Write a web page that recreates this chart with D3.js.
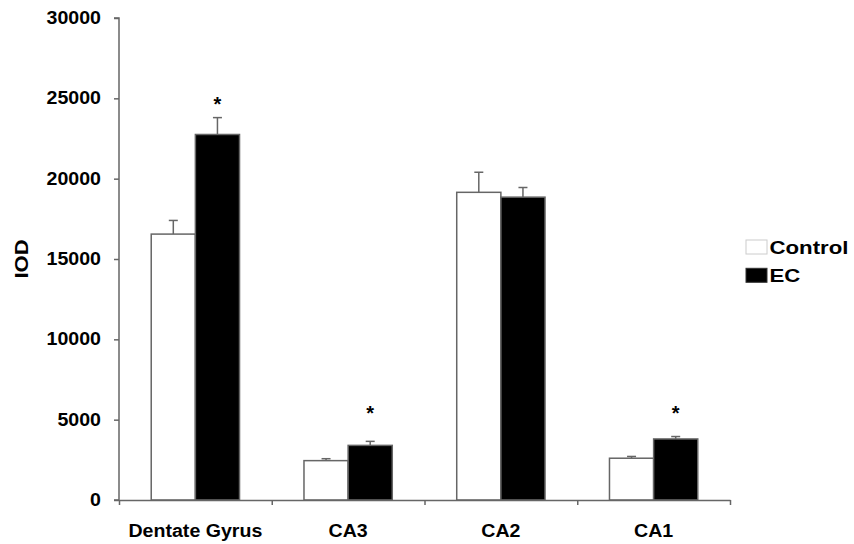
<!DOCTYPE html>
<html>
<head>
<meta charset="utf-8">
<script src="https://cdn.jsdelivr.net/npm/d3@7"></script>
<style>
body { margin: 0; background: #fff; }
text { font-family: "Liberation Sans", Arial, sans-serif; font-weight: bold; fill: #000; }
</style>
</head>
<body>
<script>
let regions = ["Dentate Gyrus", "CA3", "CA2", "CA1"];
let groups = ["Control", "EC"];
let controlMean = [16550, 2450, 19150, 2600];
let controlErr = [850, 120, 1250, 110];
let ecMean = [22750, 3400, 18850, 3800];
let ecErr = [1050, 250, 600, 150];
// star marks (value at the star's baseline), null where none
let starAt = [24200, 4950, null, 4950];
let yTicks = [0, 5000, 10000, 15000, 20000, 25000, 30000];

let W = 854, H = 544;
let plotLeft = 119, plotRight = 730, plotTop = 18, plotBottom = 500;
let sx = 1.12; // text in the reference is a bit wide

let svg = d3.select("body").append("svg")
  .attr("width", W).attr("height", H);

let x = d3.scaleBand().domain(regions).range([plotLeft, plotRight]).padding(0);
let xs = d3.scaleBand().domain(groups).range([0, x.bandwidth()])
  .paddingInner(0).paddingOuter(0.73);
let y = d3.scaleLinear().domain([0, 30000]).range([plotBottom, plotTop]);
let xi = d3.scaleLinear().domain([0, regions.length]).range([plotLeft, plotRight]);

let data = [];
regions.forEach(function (r, i) {
  data.push({ region: r, group: "Control", v: controlMean[i], e: controlErr[i] });
  data.push({ region: r, group: "EC", v: ecMean[i], e: ecErr[i] });
});

// error bars (upward only)
let err = svg.append("g").attr("stroke", "#666").attr("stroke-width", 1.5);
data.forEach(function (d) {
  let cx = x(d.region) + xs(d.group) + xs.bandwidth() / 2;
  err.append("line").attr("x1", cx).attr("x2", cx)
    .attr("y1", y(d.v)).attr("y2", y(d.v + d.e));
  err.append("line").attr("x1", cx - 4.5).attr("x2", cx + 4.5)
    .attr("y1", y(d.v + d.e)).attr("y2", y(d.v + d.e));
});

svg.append("g").selectAll("rect").data(data).enter().append("rect")
  .attr("x", function (d) { return x(d.region) + xs(d.group); })
  .attr("y", function (d) { return y(d.v); })
  .attr("width", xs.bandwidth())
  .attr("height", function (d) { return y(0) - y(d.v); })
  .attr("fill", function (d) { return d.group == "EC" ? "#000" : "#fff"; })
  .attr("stroke", "#666").attr("stroke-width", 1.5);

// stars
regions.forEach(function (r, i) {
  if (starAt[i] == null) return;
  let cx = x(r) + xs("EC") + xs.bandwidth() / 2;
  svg.append("text").text("*")
    .attr("transform", "translate(" + cx + "," + y(starAt[i]) + ")")
    .attr("text-anchor", "middle").style("font-size", "20px");
});

// y axis
let yAxis = svg.append("g").attr("transform", "translate(" + plotLeft + ",0)")
  .call(d3.axisLeft(y).tickValues(yTicks).tickSize(5).tickPadding(13)
    .tickFormat(function (d) { return d; }));
yAxis.selectAll("path, line").attr("stroke", "#666").attr("stroke-width", 1.5);
yAxis.select(".domain").attr("d", "M-5," + plotTop + "H0V" + plotBottom + "H-5");
yAxis.selectAll("text").attr("font-size", null).style("font-size", "17.5px")
  .attr("fill", "#000")
  .attr("transform", function () {
    let t = d3.select(this);
    return "translate(" + t.attr("x") + ",0) scale(" + sx + ",1) translate(" + (-t.attr("x")) + ",0)";
  });

// x axis: ticks at category boundaries
let xAxis = svg.append("g").attr("transform", "translate(0," + plotBottom + ")")
  .call(d3.axisBottom(xi).tickValues(d3.range(regions.length + 1))
    .tickSize(5).tickSizeOuter(0).tickFormat(""));
xAxis.selectAll("path, line").attr("stroke", "#666").attr("stroke-width", 1.5);

svg.append("g").selectAll("text").data(regions).enter().append("text")
  .text(function (d) { return d; })
  .attr("transform", function (d) {
    return "translate(" + (x(d) + x.bandwidth() / 2) + "," + (plotBottom + 36.5) + ") scale(" + sx + ",1)";
  })
  .attr("text-anchor", "middle").style("font-size", "17.5px");

// y title
svg.append("text").text("IOD")
  .attr("transform", "translate(28," + ((plotTop + plotBottom) / 2) + ") rotate(-90) scale(1.22,1)")
  .attr("text-anchor", "middle").style("font-size", "18px");

// legend
let legend = svg.append("g").attr("transform", "translate(746,240)");
groups.forEach(function (g, i) {
  let row = legend.append("g").attr("transform", "translate(0," + (i * 28.3) + ")");
  row.append("rect").attr("width", 21).attr("height", 14)
    .attr("fill", g == "EC" ? "#000" : "#fff")
    .attr("stroke", g == "EC" ? "#333" : "#ccc").attr("stroke-width", 1);
  row.append("text").text(g)
    .attr("transform", "translate(23.5,14) scale(1.17,1)")
    .style("font-size", "19px");
});
</script>
</body>
</html>
